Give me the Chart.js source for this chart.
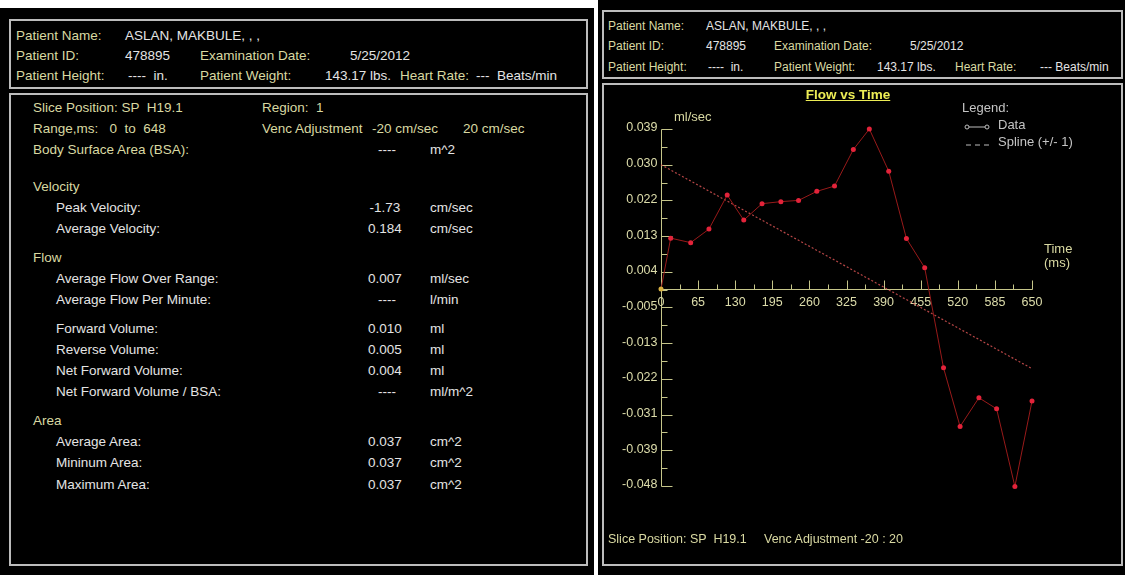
<!DOCTYPE html>
<html>
<head>
<meta charset="utf-8">
<title>Flow vs Time</title>
<script src="https://cdn.jsdelivr.net/npm/chart.js@4.4.1/dist/chart.umd.min.js"></script>
<style>
  html, body { margin: 0; padding: 0; }
  body {
    width: 1125px; height: 575px; background: #ffffff; position: relative; overflow: hidden;
    font-family: "Liberation Sans", Arial, sans-serif; font-size: 12.5px;
  }
  .panel { position: absolute; background: #000000; }
  .box { position: absolute; border: 2px solid #bcbcbc; box-sizing: border-box; }
  .t { position: absolute; white-space: pre; line-height: 14px; }
  .L { font-size: 13.5px; }
  .H { font-size: 12px; }
  .y { color: #d9d9a2; }
  .w { color: #e4e4e4; }
  .g { color: #c4c4c4; font-size: 13px; }
  .v { width: 60px; text-align: center; }
  #title { color: #eded55; font-weight: bold; font-size: 13.5px; text-decoration: underline; width: 140px; text-align: center; }
  #chartWrap { position: absolute; left: 603px; top: 83px; width: 518px; height: 482px; }
  #legendMarks { position: absolute; left: 0; top: 0; }
</style>
</head>
<body>

<!-- left report panel -->
<div class="panel" style="left:0;top:8px;width:594px;height:567px;"></div>
<div class="box" style="left:9px;top:19px;width:579px;height:70px;"></div>
<div class="box" style="left:9px;top:93px;width:579px;height:473px;"></div>

<span class="t L y" style="left:16px;top:29px;">Patient Name:</span>
<span class="t L w" style="left:125px;top:29px;">ASLAN, MAKBULE, , ,</span>
<span class="t L y" style="left:16px;top:49px;">Patient ID:</span>
<span class="t L w" style="left:125px;top:49px;">478895</span>
<span class="t L y" style="left:200px;top:49px;">Examination Date:</span>
<span class="t L w" style="left:350px;top:49px;">5/25/2012</span>
<span class="t L y" style="left:16px;top:69px;">Patient Height:</span>
<span class="t L w" style="left:128px;top:69px;">----  in.</span>
<span class="t L y" style="left:200px;top:69px;">Patient Weight:</span>
<span class="t L w" style="left:325px;top:69px;">143.17 lbs.</span>
<span class="t L y" style="left:400px;top:69px;">Heart Rate:</span>
<span class="t L w" style="left:476px;top:69px;">---  Beats/min</span>

<span class="t L y" style="left:33px;top:101px;">Slice Position: SP  H19.1</span>
<span class="t L y" style="left:262px;top:101px;">Region:  1</span>
<span class="t L y" style="left:33px;top:122px;">Range,ms:   0  to  648</span>
<span class="t L y" style="left:262px;top:122px;">Venc Adjustment</span>
<span class="t L y" style="left:372px;top:122px;">-20 cm/sec</span>
<span class="t L y" style="left:463px;top:122px;">20 cm/sec</span>
<span class="t L y" style="left:33px;top:143px;">Body Surface Area (BSA):</span>
<span class="t L w v" style="left:357px;top:143px;">----</span>
<span class="t L w" style="left:430px;top:143px;">m^2</span>

<span class="t L y" style="left:33px;top:180px;">Velocity</span>
<span class="t L w" style="left:56px;top:201px;">Peak Velocity:</span>
<span class="t L w v" style="left:355px;top:201px;">-1.73</span>
<span class="t L w" style="left:430px;top:201px;">cm/sec</span>
<span class="t L w" style="left:56px;top:222px;">Average Velocity:</span>
<span class="t L w v" style="left:355px;top:222px;">0.184</span>
<span class="t L w" style="left:430px;top:222px;">cm/sec</span>

<span class="t L y" style="left:33px;top:251px;">Flow</span>
<span class="t L w" style="left:56px;top:272px;">Average Flow Over Range:</span>
<span class="t L w v" style="left:355px;top:272px;">0.007</span>
<span class="t L w" style="left:430px;top:272px;">ml/sec</span>
<span class="t L w" style="left:56px;top:293px;">Average Flow Per Minute:</span>
<span class="t L w v" style="left:357px;top:293px;">----</span>
<span class="t L w" style="left:430px;top:293px;">l/min</span>
<span class="t L w" style="left:56px;top:322px;">Forward Volume:</span>
<span class="t L w v" style="left:355px;top:322px;">0.010</span>
<span class="t L w" style="left:430px;top:322px;">ml</span>
<span class="t L w" style="left:56px;top:343px;">Reverse Volume:</span>
<span class="t L w v" style="left:355px;top:343px;">0.005</span>
<span class="t L w" style="left:430px;top:343px;">ml</span>
<span class="t L w" style="left:56px;top:364px;">Net Forward Volume:</span>
<span class="t L w v" style="left:355px;top:364px;">0.004</span>
<span class="t L w" style="left:430px;top:364px;">ml</span>
<span class="t L w" style="left:56px;top:385px;">Net Forward Volume / BSA:</span>
<span class="t L w v" style="left:357px;top:385px;">----</span>
<span class="t L w" style="left:430px;top:385px;">ml/m^2</span>

<span class="t L y" style="left:33px;top:414px;">Area</span>
<span class="t L w" style="left:56px;top:435px;">Average Area:</span>
<span class="t L w v" style="left:355px;top:435px;">0.037</span>
<span class="t L w" style="left:430px;top:435px;">cm^2</span>
<span class="t L w" style="left:56px;top:456px;">Mininum Area:</span>
<span class="t L w v" style="left:355px;top:456px;">0.037</span>
<span class="t L w" style="left:430px;top:456px;">cm^2</span>
<span class="t L w" style="left:56px;top:478px;">Maximum Area:</span>
<span class="t L w v" style="left:355px;top:478px;">0.037</span>
<span class="t L w" style="left:430px;top:478px;">cm^2</span>

<!-- right graph panel -->
<div class="panel" style="left:598px;top:0;width:527px;height:575px;"></div>
<div class="box" style="left:602px;top:10px;width:521px;height:69px;"></div>
<div class="box" style="left:602px;top:83px;width:521px;height:483px;"></div>

<span class="t H y" style="left:608px;top:19px;">Patient Name:</span>
<span class="t H w" style="left:706px;top:19px;">ASLAN, MAKBULE, , ,</span>
<span class="t H y" style="left:608px;top:39px;">Patient ID:</span>
<span class="t H w" style="left:706px;top:39px;">478895</span>
<span class="t H y" style="left:774px;top:39px;">Examination Date:</span>
<span class="t H w" style="left:910px;top:39px;">5/25/2012</span>
<span class="t H y" style="left:608px;top:60px;">Patient Height:</span>
<span class="t H w" style="left:708px;top:60px;">----  in.</span>
<span class="t H y" style="left:774px;top:60px;">Patient Weight:</span>
<span class="t H w" style="left:877px;top:60px;">143.17 lbs.</span>
<span class="t H y" style="left:955px;top:60px;">Heart Rate:</span>
<span class="t H w" style="left:1040px;top:60px;">--- Beats/min</span>

<div id="chartWrap"><canvas id="flowChart" width="518" height="482"></canvas></div>

<span id="title" class="t" style="left:778px;top:88px;">Flow vs Time</span>
<span class="t g" style="left:962px;top:101px;">Legend:</span>
<span class="t g" style="left:998px;top:118px;">Data</span>
<span class="t g" style="left:998px;top:135px;">Spline (+/- 1)</span>
<svg id="legendMarks" width="1125" height="575">
  <line x1="967" y1="127" x2="987" y2="127" stroke="#bdbdbd" stroke-width="1"/>
  <circle cx="967" cy="127" r="2" fill="#000" stroke="#bdbdbd" stroke-width="1"/>
  <circle cx="987" cy="127" r="2" fill="#000" stroke="#bdbdbd" stroke-width="1"/>
  <line x1="966" y1="145" x2="989" y2="145" stroke="#bdbdbd" stroke-width="1" stroke-dasharray="5,4"/>
</svg>
<span class="t y" style="left:674px;top:110px;font-size:13px;">ml/sec</span>
<span class="t y" style="left:1044px;top:242px;font-size:13px;">Time</span>
<span class="t y" style="left:1044px;top:256px;font-size:13px;">(ms)</span>
<span class="t y" style="left:608px;top:532px;">Slice Position: SP  H19.1</span>
<span class="t y" style="left:764px;top:532px;">Venc Adjustment -20 : 20</span>

<script>
// Flow samples over the cardiac cycle (ms, ml/sec)
const frameTimes = [0, 17, 52, 84, 116, 145, 177, 210, 241, 273, 304, 337, 365, 399, 430, 462, 495, 524, 557, 588, 620, 650];
const flowValues = [0.0000, 0.0124, 0.0113, 0.0146, 0.0229, 0.0168, 0.0208, 0.0213, 0.0216, 0.0238, 0.0251, 0.0340, 0.0390, 0.0287, 0.0123, 0.0052, -0.0192, -0.0335, -0.0265, -0.0292, -0.0481, -0.0273];

// Fitted spline (+/- 1) end points
const splineTimes = [0, 650];
const splineValues = [0.0303, -0.0194];

// Axis ticks
const xTickValues = [0, 65, 130, 195, 260, 325, 390, 455, 520, 585, 650];
const xTickLabels = ['0', '65', '130', '195', '260', '325', '390', '455', '520', '585', '650'];
const yTickValues = [0.039, 0.0303, 0.0216, 0.0129, 0.0042, -0.0045, -0.0132, -0.0219, -0.0306, -0.0393, -0.048];
const yTickLabels = ['0.039', '0.030', '0.022', '0.013', '0.004', '-0.005', '-0.013', '-0.022', '-0.031', '-0.039', '-0.048'];

const AXIS_COLOR = '#c6c68a';
const LABEL_COLOR = '#dcdcaa';

// Draws the crossing axes (y axis at t = 0, time axis at flow = 0) with inward ticks
const crossAxes = {
  id: 'crossAxes',
  beforeDatasetsDraw(chart) {
    const { ctx, scales: { x, y } } = chart;
    const ax = Math.round(x.getPixelForValue(0)) + 0.5;
    const ay = Math.round(y.getPixelForValue(0)) + 0.5;
    const yTop = Math.round(y.getPixelForValue(yTickValues[0])) + 0.5;
    const yBot = Math.round(y.getPixelForValue(yTickValues[yTickValues.length - 1])) + 0.5;
    const xEnd = Math.round(x.getPixelForValue(xTickValues[xTickValues.length - 1])) + 0.5;

    ctx.save();
    ctx.strokeStyle = AXIS_COLOR;
    ctx.lineWidth = 1;
    ctx.beginPath();
    ctx.moveTo(ax, yTop); ctx.lineTo(ax, yBot);
    ctx.moveTo(ax, ay); ctx.lineTo(xEnd, ay);

    yTickValues.forEach((v, i) => {
      const py = Math.round(y.getPixelForValue(v)) + 0.5;
      ctx.moveTo(ax, py); ctx.lineTo(ax + 11, py);
      if (i < yTickValues.length - 1) {
        const my = Math.round(y.getPixelForValue((v + yTickValues[i + 1]) / 2)) + 0.5;
        ctx.moveTo(ax, my); ctx.lineTo(ax + 6, my);
      }
    });
    xTickValues.forEach((v, i) => {
      const px = Math.round(x.getPixelForValue(v)) + 0.5;
      if (i > 0) { ctx.moveTo(px, ay); ctx.lineTo(px, ay - 9); }
      if (i < xTickValues.length - 1) {
        const mx = Math.round(x.getPixelForValue((v + xTickValues[i + 1]) / 2)) + 0.5;
        ctx.moveTo(mx, ay); ctx.lineTo(mx, ay - 5);
      }
    });
    ctx.stroke();

    ctx.fillStyle = LABEL_COLOR;
    ctx.font = '12.5px "Liberation Sans", Arial, sans-serif';
    ctx.textAlign = 'right';
    ctx.textBaseline = 'middle';
    yTickValues.forEach((v, i) => {
      ctx.fillText(yTickLabels[i], ax - 4, y.getPixelForValue(v) - 1);
    });
    ctx.textAlign = 'center';
    xTickValues.forEach((v, i) => {
      ctx.fillText(xTickLabels[i], x.getPixelForValue(v), ay + 13);
    });
    ctx.restore();
  }
};

new Chart(document.getElementById('flowChart'), {
  type: 'scatter',
  data: {
    datasets: [
      {
        label: 'Data',
        data: frameTimes.map((t, i) => ({ x: t, y: flowValues[i] })),
        showLine: true,
        borderColor: '#981a1a',
        borderWidth: 1,
        pointRadius: 2.5,
        pointBorderWidth: 0,
        pointBackgroundColor: (c) => c.dataIndex === 0 ? '#d8b040' : '#e3233a',
        clip: false,
        order: 1
      },
      {
        label: 'Spline (+/- 1)',
        data: splineTimes.map((t, i) => ({ x: t, y: splineValues[i] })),
        showLine: true,
        borderColor: 'rgba(214, 82, 82, 0.85)',
        borderWidth: 1.2,
        borderDash: [2, 2],
        pointRadius: 0,
        clip: false,
        order: 2
      }
    ]
  },
  options: {
    responsive: false,
    animation: false,
    devicePixelRatio: 1,
    layout: { padding: { left: 58, right: 89, top: 46, bottom: 79 } },
    plugins: { legend: { display: false }, tooltip: { enabled: false }, title: { display: false } },
    scales: {
      x: { type: 'linear', min: 0, max: 650, display: false },
      y: { type: 'linear', min: -0.048, max: 0.039, display: false }
    }
  },
  plugins: [crossAxes]
});
</script>
</body>
</html>
